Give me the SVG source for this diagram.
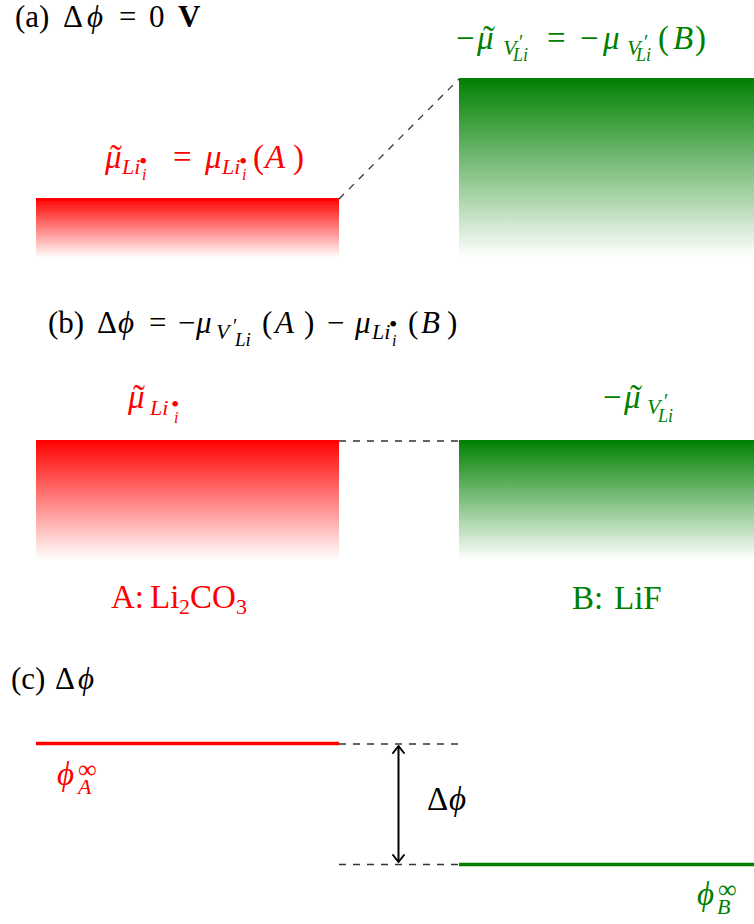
<svg xmlns="http://www.w3.org/2000/svg" width="754" height="924" viewBox="0 0 754 924">
<style>
text{font-family:"Liberation Serif","DejaVu Serif",serif;}
.it{font-style:italic;}
.r{fill:#ff0000;}
.g{fill:#008000;}
.k{fill:#000000;}
.dash{stroke:#333333;stroke-width:1.3;stroke-dasharray:7 7;fill:none;}
</style>
<defs>
<linearGradient id="gr" x1="0" y1="0" x2="0" y2="1"><stop offset="0" stop-color="#ff0000"/><stop offset="1" stop-color="#ffffff"/></linearGradient>
<linearGradient id="gg" x1="0" y1="0" x2="0" y2="1"><stop offset="0" stop-color="#008000"/><stop offset="1" stop-color="#ffffff"/></linearGradient>
<marker id="chev" markerUnits="userSpaceOnUse" markerWidth="20" markerHeight="20" viewBox="-10 -10 20 20" refX="0" refY="0" orient="auto-start-reverse">
<path d="M -7 -5.5 L 0 0 L -7 5.5" fill="none" stroke="#000" stroke-width="2" stroke-linecap="round" stroke-linejoin="round"/>
</marker>
</defs>
<rect width="754" height="924" fill="#ffffff"/>

<!-- Panel (a) -->
<text id="label-a" class="k" font-size="31"><tspan x="15" y="27">(a)</tspan><tspan x="63" y="27">Δ</tspan><tspan class="it" x="87" y="27">ϕ</tspan><tspan x="119" y="27">=</tspan><tspan x="149" y="27">0</tspan><tspan x="178" y="27" font-weight="bold">V</tspan></text>

<g id="band-a-A">
<rect x="36" y="198" width="303" height="60" fill="url(#gr)"/>
<line x1="36" y1="199.5" x2="339" y2="199.5" stroke="#ff0000" stroke-width="3"/>
<text class="r" font-size="33"><tspan class="it" x="105" y="168">μ</tspan><tspan x="110" y="170" font-size="36">˜</tspan><tspan class="it" x="122" y="174" font-size="22">Li</tspan><tspan x="139" y="169" font-size="24">•</tspan><tspan class="it" x="142" y="180" font-size="16">i</tspan><tspan x="173" y="168">=</tspan><tspan class="it" x="205" y="168">μ</tspan><tspan class="it" x="222" y="174" font-size="22">Li</tspan><tspan x="239" y="169" font-size="24">•</tspan><tspan class="it" x="242" y="180" font-size="16">i</tspan><tspan x="253" y="168">(</tspan><tspan class="it" x="265" y="168">A</tspan><tspan x="293" y="168">)</tspan></text>
</g>

<g id="band-a-B">
<rect x="459" y="78" width="295" height="180" fill="url(#gg)"/>
<line x1="459" y1="79.5" x2="754" y2="79.5" stroke="#008000" stroke-width="3"/>
<text class="g" font-size="33"><tspan x="456" y="49">−</tspan><tspan class="it" x="477" y="49">μ</tspan><tspan x="483" y="51" font-size="36">˜</tspan><tspan class="it" x="503" y="55" font-size="22">V</tspan><tspan x="519" y="49" font-size="20">′</tspan><tspan class="it" x="513" y="61" font-size="18">Li</tspan><tspan x="547" y="49">=</tspan><tspan x="580" y="49">−</tspan><tspan class="it" x="603" y="49">μ</tspan><tspan class="it" x="627" y="55" font-size="22">V</tspan><tspan x="644" y="49" font-size="20">′</tspan><tspan class="it" x="636" y="61" font-size="18">Li</tspan><tspan x="658" y="49">(</tspan><tspan class="it" x="673" y="49">B</tspan><tspan x="695" y="49">)</tspan></text>
</g>

<!-- Panel (b) -->
<text id="label-b" class="k" font-size="31"><tspan x="48" y="333">(b)</tspan><tspan x="97" y="333">Δ</tspan><tspan class="it" x="118" y="333">ϕ</tspan><tspan x="149" y="333">=</tspan><tspan x="178" y="333">−</tspan><tspan class="it" x="196" y="333">μ</tspan><tspan class="it" x="216" y="339" font-size="22">V</tspan><tspan x="233" y="333" font-size="20">′</tspan><tspan class="it" x="235" y="346" font-size="19">Li</tspan><tspan x="262" y="333">(</tspan><tspan class="it" x="275" y="333">A</tspan><tspan x="304" y="333">)</tspan><tspan x="327" y="333">−</tspan><tspan class="it" x="355" y="333">μ</tspan><tspan class="it" x="372" y="339" font-size="22">Li</tspan><tspan x="389" y="332" font-size="24">•</tspan><tspan class="it" x="392" y="346" font-size="16">i</tspan><tspan x="408" y="333">(</tspan><tspan class="it" x="421" y="333">B</tspan><tspan x="447" y="333">)</tspan></text>

<g id="band-b-A">
<rect x="36" y="440" width="303" height="120" fill="url(#gr)"/>
<line x1="36" y1="441.5" x2="339" y2="441.5" stroke="#ff0000" stroke-width="3"/>
<text class="r" font-size="33"><tspan class="it" x="128" y="408">μ</tspan><tspan x="133" y="410" font-size="36">˜</tspan><tspan class="it" x="150" y="415" font-size="22">Li</tspan><tspan x="171" y="412" font-size="24">•</tspan><tspan class="it" x="174" y="423" font-size="16">i</tspan></text>
<text class="r" font-size="33"><tspan x="111" y="608">A:</tspan><tspan x="150" y="608">Li</tspan><tspan x="179" y="614" font-size="22">2</tspan><tspan x="190" y="608">CO</tspan><tspan x="236" y="614" font-size="22">3</tspan></text>
</g>

<g id="band-b-B">
<rect x="459" y="440" width="295" height="120" fill="url(#gg)"/>
<line x1="459" y1="441.5" x2="754" y2="441.5" stroke="#008000" stroke-width="3"/>
<text class="g" font-size="33"><tspan x="603" y="408">−</tspan><tspan class="it" x="624" y="408">μ</tspan><tspan x="630" y="410" font-size="36">˜</tspan><tspan class="it" x="647" y="414" font-size="22">V</tspan><tspan x="664" y="408" font-size="20">′</tspan><tspan class="it" x="658" y="422" font-size="18">Li</tspan></text>
<text class="g" font-size="33"><tspan x="572" y="609">B:</tspan><tspan x="614" y="609">LiF</tspan></text>
</g>

<!-- Panel (c) -->
<text id="label-c" class="k" font-size="31"><tspan x="11" y="689">(c)</tspan><tspan x="55" y="689">Δ</tspan><tspan class="it" x="78" y="689">ϕ</tspan></text>

<g id="level-A">
<line x1="36" y1="743.5" x2="339" y2="743.5" stroke="#ff0000" stroke-width="3.5"/>
<text class="r" font-size="33"><tspan class="it" x="57" y="785">ϕ</tspan><tspan x="78" y="778" font-size="26">∞</tspan><tspan class="it" x="78" y="794" font-size="22">A</tspan></text>
</g>

<g id="level-B">
<line x1="459" y1="864.5" x2="754" y2="864.5" stroke="#008000" stroke-width="3.5"/>
<text class="g" font-size="33"><tspan class="it" x="697" y="905">ϕ</tspan><tspan x="718" y="898" font-size="26">∞</tspan><tspan class="it" x="717" y="914" font-size="22">B</tspan></text>
</g>

<g id="connectors">
<line class="dash" x1="339" y1="199" x2="459" y2="79"/>
<line class="dash" x1="339" y1="441" x2="459" y2="441"/>
<line class="dash" x1="339" y1="744" x2="459" y2="744"/>
<line class="dash" x1="339" y1="864.5" x2="459" y2="864.5"/>
<line x1="398.5" y1="746" x2="398.5" y2="862" stroke="#000" stroke-width="2" marker-start="url(#chev)" marker-end="url(#chev)"/>
<text class="k" font-size="33"><tspan x="427" y="810">Δ</tspan><tspan class="it" x="449" y="810">ϕ</tspan></text>
</g>
</svg>
